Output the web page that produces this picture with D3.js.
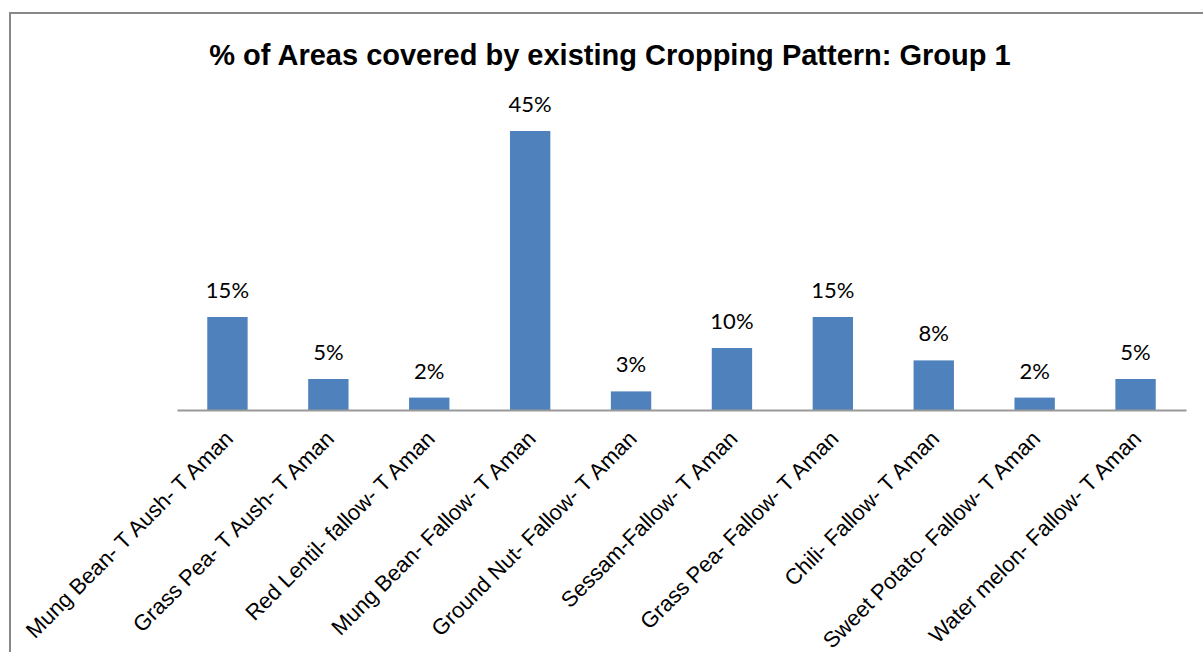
<!DOCTYPE html>
<html>
<head>
<meta charset="utf-8">
<script src="https://cdn.jsdelivr.net/npm/d3@7"></script>
<style>
  body { margin: 0; background: #fff; }
  svg { display: block; }
</style>
</head>
<body>
<div id="chart-area"></div>
<script>
// SVG Size
var width = 1203,
    height = 652;

// chart data
var categories = [
    "Mung Bean- T Aush- T Aman",
    "Grass Pea- T Aush- T Aman",
    "Red Lentil- fallow- T Aman",
    "Mung Bean- Fallow- T Aman",
    "Ground Nut- Fallow- T Aman",
    "Sessam-Fallow- T Aman",
    "Grass Pea- Fallow- T Aman",
    "Chili- Fallow- T Aman",
    "Sweet Potato- Fallow- T Aman",
    "Water melon- Fallow- T Aman"
];
var percents = [15, 5, 2, 45, 3, 10, 15, 8, 2, 5];

var chartTitle = "% of Areas covered by existing Cropping Pattern: Group 1";

var data = categories.map(function (c, i) {
    return { name: c, value: percents[i] };
});

var svg = d3.select("#chart-area").append("svg")
    .attr("width", width)
    .attr("height", height);

// outer frame (runs off the right and bottom edges)
svg.append("rect")
    .attr("x", 10)
    .attr("y", 13)
    .attr("width", 1230)
    .attr("height", 700)
    .attr("fill", "none")
    .attr("stroke", "#888")
    .attr("stroke-width", 2);

var baseY = 410;

var xScale = d3.scaleBand()
    .domain(categories)
    .range([177, 1186])
    .paddingInner(0.6)
    .paddingOuter(0.3);

var yScale = d3.scaleLinear()
    .domain([0, 50])
    .range([baseY, 100]);

svg.selectAll("rect.bar")
    .data(data)
    .enter()
    .append("rect")
    .attr("class", "bar")
    .attr("x", function (d) { return xScale(d.name); })
    .attr("width", xScale.bandwidth())
    .attr("y", function (d) { return yScale(d.value); })
    .attr("height", function (d) { return baseY - yScale(d.value); })
    .attr("fill", "#4f81bd");

// value labels
svg.selectAll("text.value")
    .data(data)
    .enter()
    .append("text")
    .attr("class", "value")
    .attr("x", function (d) { return xScale(d.name) + xScale.bandwidth() / 2; })
    .attr("y", function (d) { return yScale(d.value) - 19; })
    .attr("text-anchor", "middle")
    .attr("font-family", "Lato, 'Open Sans', sans-serif")
    .attr("font-size", 22)
    .attr("fill", "#000")
    .text(function (d) { return d.value + "%"; });

// x axis
var xAxis = d3.axisBottom()
    .scale(xScale)
    .tickSize(0)
    .tickPadding(0);

var gx = svg.append("g")
    .attr("class", "axis x-axis")
    .attr("transform", "translate(0," + baseY + ")")
    .call(xAxis);

gx.select(".domain")
    .attr("stroke", "#999")
    .attr("stroke-width", 2);

gx.selectAll(".tick text")
    .attr("font-family", "'Liberation Sans', Arial, sans-serif")
    .attr("font-size", 22)
    .attr("fill", "#000")
    .attr("text-anchor", "end")
    .attr("x", 0)
    .attr("y", 0)
    .attr("dy", 0)
    .attr("transform", "translate(7,30) rotate(-45)");

// title
svg.append("text")
    .attr("x", 610)
    .attr("y", 65)
    .attr("text-anchor", "middle")
    .attr("font-family", "'Liberation Sans', Arial, sans-serif")
    .attr("font-weight", "bold")
    .attr("font-size", 29)
    .attr("fill", "#000")
    .text(chartTitle);
</script>
</body>
</html>
